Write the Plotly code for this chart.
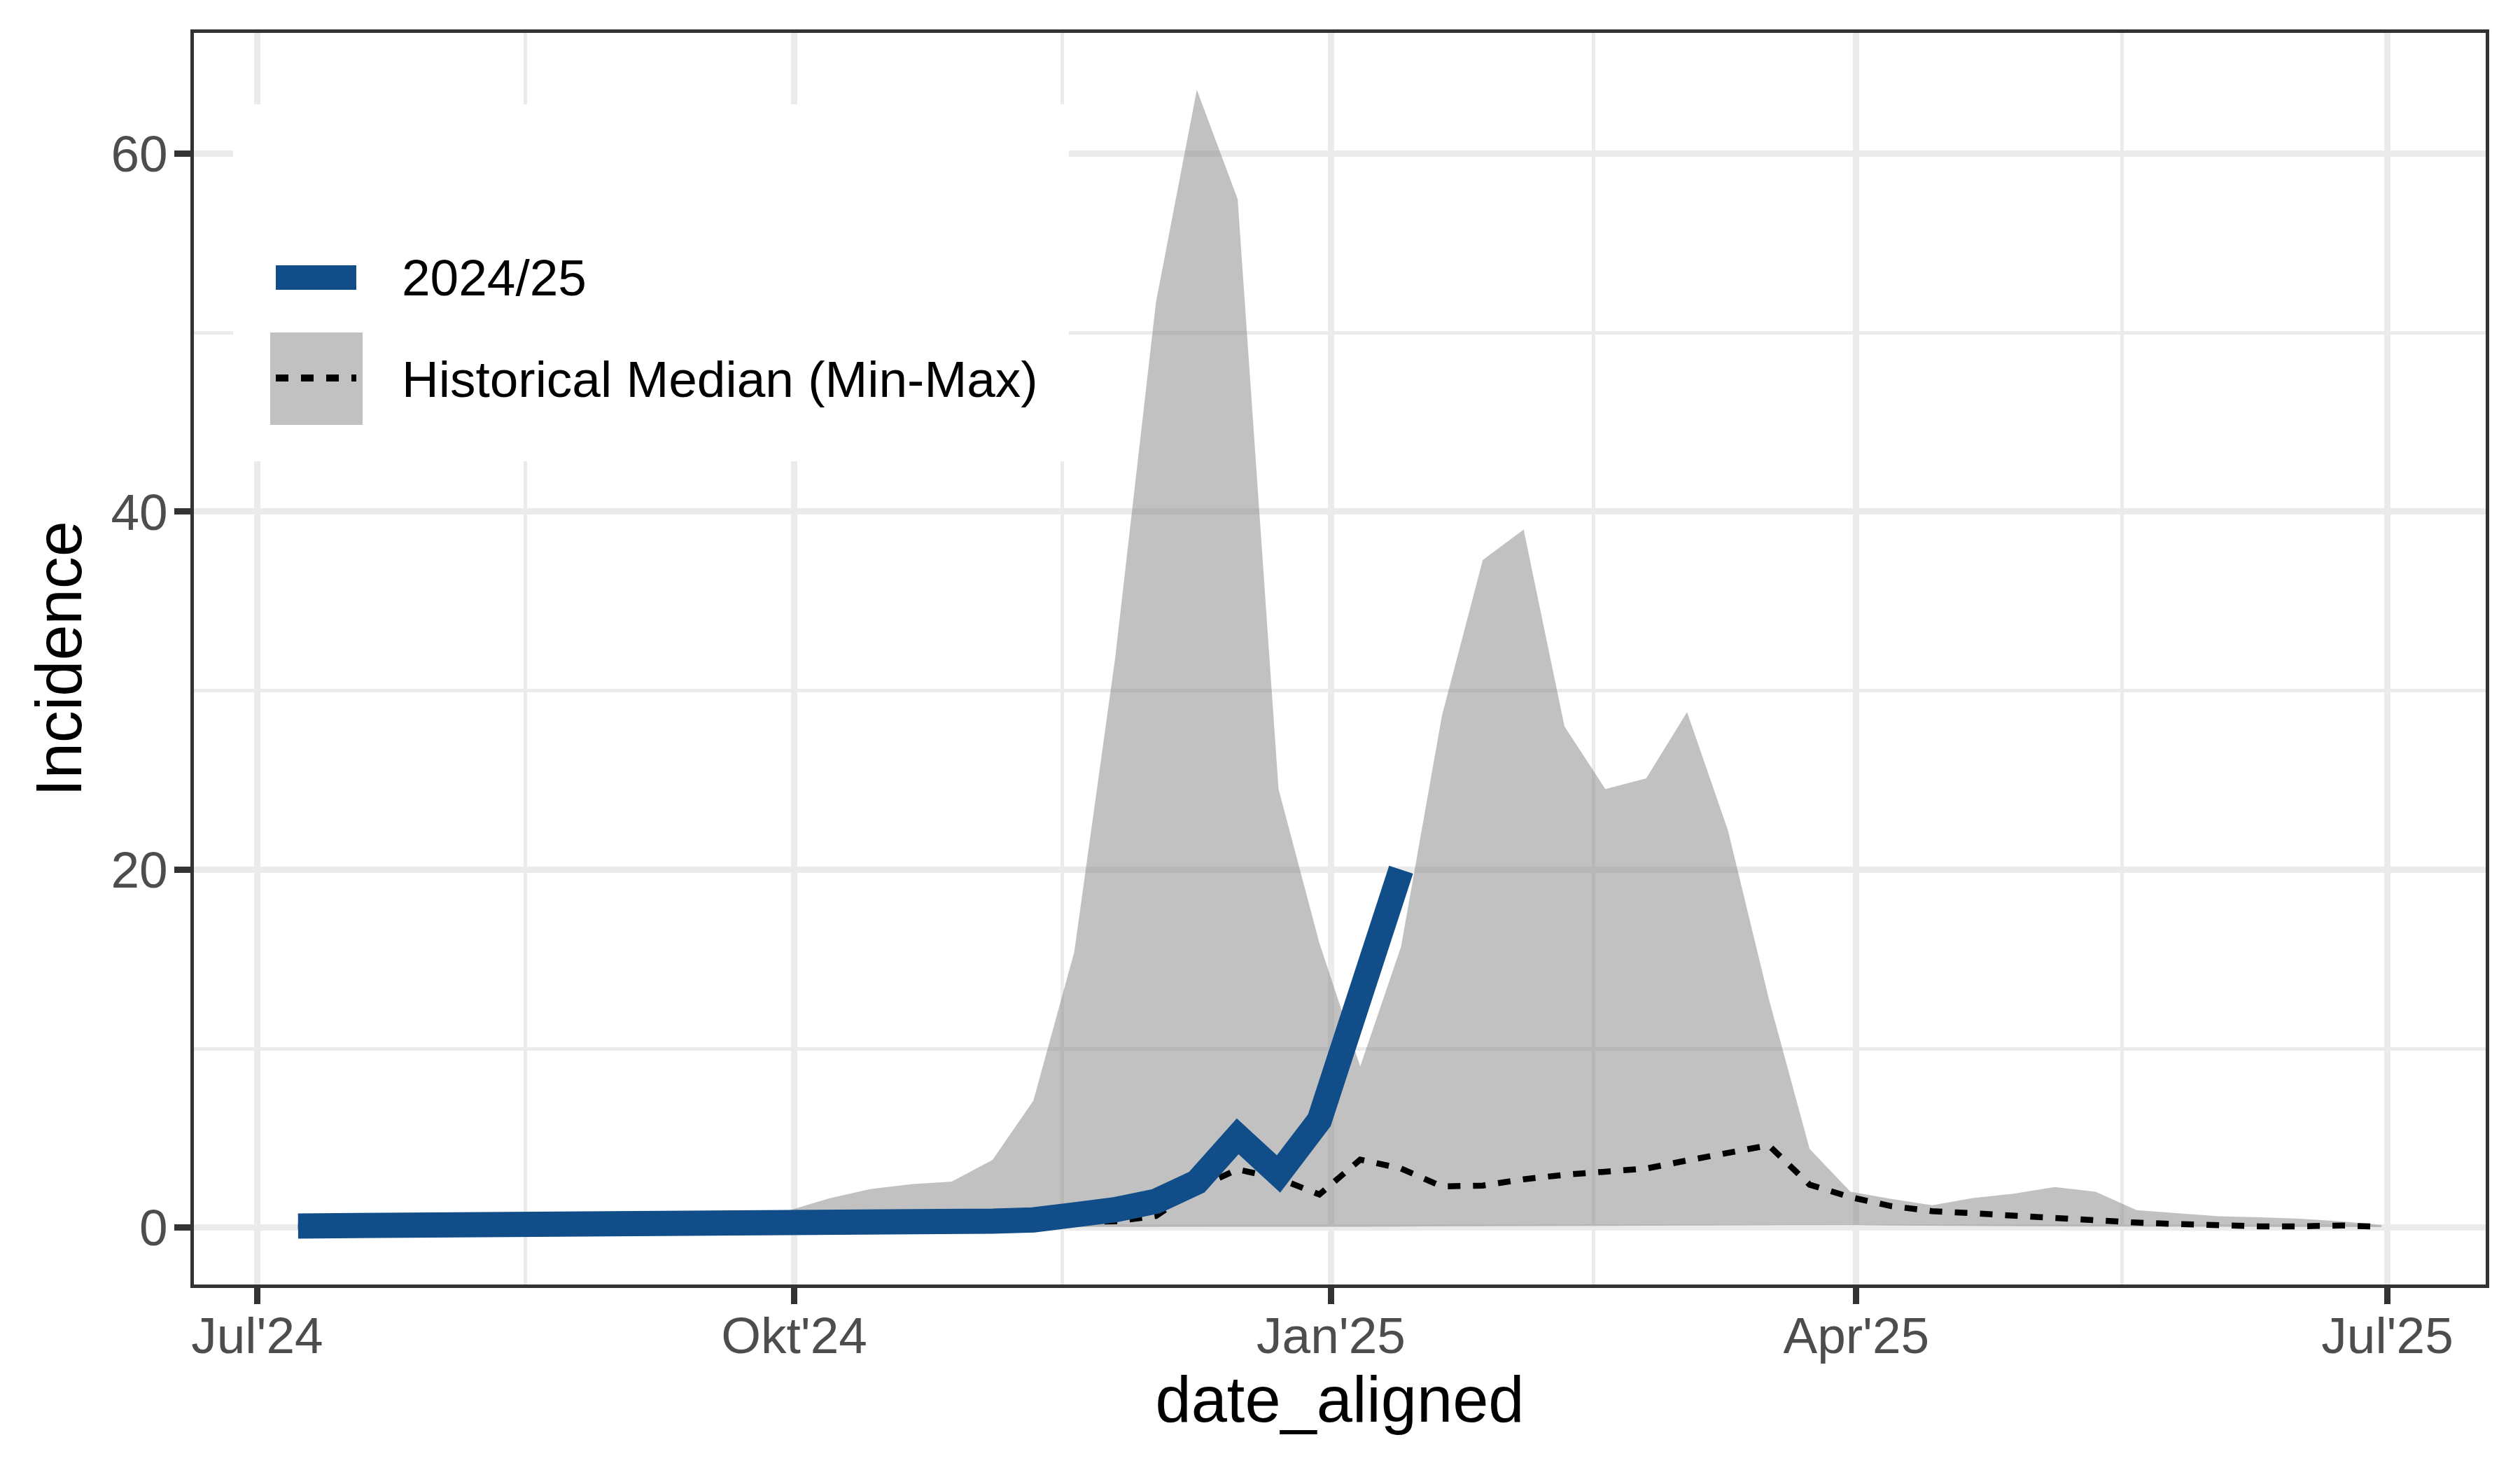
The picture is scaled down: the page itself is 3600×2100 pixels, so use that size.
import pandas as pd
import plotly.graph_objects as go

# ---------------- data ----------------
dates = [
    "2024-07-08", "2024-07-15", "2024-07-22", "2024-07-29", "2024-08-05", "2024-08-12",
    "2024-08-19", "2024-08-26", "2024-09-02", "2024-09-09", "2024-09-16", "2024-09-23",
    "2024-09-30", "2024-10-07", "2024-10-14", "2024-10-21", "2024-10-28", "2024-11-04",
    "2024-11-11", "2024-11-18", "2024-11-25", "2024-12-02", "2024-12-09", "2024-12-16",
    "2024-12-23", "2024-12-30", "2025-01-06", "2025-01-13", "2025-01-20", "2025-01-27",
    "2025-02-03", "2025-02-10", "2025-02-17", "2025-02-24", "2025-03-03", "2025-03-10",
    "2025-03-17", "2025-03-24", "2025-03-31", "2025-04-07", "2025-04-14", "2025-04-21",
    "2025-04-28", "2025-05-05", "2025-05-12", "2025-05-19", "2025-05-26", "2025-06-02",
    "2025-06-09", "2025-06-16", "2025-06-23", "2025-06-30",
]

season_2024_25 = [
    0.09, 0.09, 0.08, 0.07, 0.07, 0.09, 0.12, 0.14, 0.15, 0.08, 0.10, 0.13,
    0.18, 0.28, 0.28, 0.31, 0.29, 0.36, 0.43, 0.63, 1.00, 1.47, 2.54, 5.10,
    3.00, 6.00, 13.6, 20.0,
]

hist_median = [
    0.05, 0.05, 0.05, 0.05, 0.05, 0.05, 0.08, 0.08, 0.08, 0.10, 0.10, 0.12,
    0.15, 0.18, 0.20, 0.22, 0.25, 0.28, 0.30, 0.33, 0.35, 0.65, 2.20, 3.25,
    2.75, 1.85, 3.80, 3.30, 2.30, 2.35, 2.70, 2.95, 3.10, 3.30, 3.75, 4.20,
    4.60, 2.40, 1.70, 1.20, 0.92, 0.80, 0.65, 0.55, 0.35, 0.28, 0.20, 0.10,
    0.07, 0.07, 0.12, 0.05,
]

hist_min = [
    0.00, 0.00, 0.00, 0.00, 0.00, 0.00, 0.00, 0.00, 0.00, 0.00, 0.00, 0.00,
    0.02, 0.02, 0.02, 0.03, 0.03, 0.03, 0.03, 0.04, 0.04, 0.04, 0.05, 0.05,
    0.05, 0.05, 0.05, 0.06, 0.07, 0.08, 0.08, 0.09, 0.10, 0.10, 0.11, 0.12,
    0.13, 0.14, 0.15, 0.12, 0.10, 0.09, 0.08, 0.07, 0.06, 0.05, 0.05, 0.05,
    0.05, 0.04, 0.04, 0.03,
]

hist_max = [
    0.30, 0.30, 0.25, 0.20, 0.20, 0.25, 0.30, 0.30, 0.35, 0.40, 0.45, 0.60,
    0.95, 1.63, 2.15, 2.42, 2.57, 3.78, 7.10, 15.4, 31.8, 51.7, 63.57, 57.46,
    24.5, 15.9, 9.00, 15.7, 28.6, 37.3, 39.0, 28.0, 24.5, 25.1, 28.8, 22.2,
    12.8, 4.40, 2.00, 1.60, 1.25, 1.65, 1.90, 2.27, 2.00, 0.98, 0.80, 0.63,
    0.58, 0.50, 0.35, 0.15,
]

x_tick_vals = ["2024-07-01", "2024-10-01", "2025-01-01", "2025-04-01", "2025-07-01"]
x_tick_text = ["Jul'24", "Okt'24", "Jan'25", "Apr'25", "Jul'25"]
x_minor_vals = ["2024-08-16", "2024-11-16", "2025-02-15", "2025-05-16 12:00"]
y_tick_vals = [0, 20, 40, 60]
y_minor_vals = [10, 30, 50]

legend_labels = ["2024/25", "Historical Median (Min-Max)"]

# ---------------- styling ----------------
FONT = "Liberation Sans, Arial, Helvetica, sans-serif"
BLUE = "#114E89"
BAND = "rgba(131,131,131,0.5)"
GRID = "#EBEBEB"
DARK = "#333333"

W, H = 3600, 2100
ML, MR, MT, MB = 277, 49, 47, 265
PW, PH = W - ML - MR, H - MT - MB


def px_x(p):
    return (p - ML) / PW


def px_y(p):
    return (H - MB - p) / PH


# axis ranges with 5% expansion (ggplot default)
d = pd.to_datetime(dates)
span = d.max() - d.min()
x_range = [d.min() - 0.05 * span, d.max() + 0.05 * span]
all_y = hist_max + hist_min + hist_median + season_2024_25
y_lo, y_hi = min(all_y), max(all_y)
y_range = [y_lo - 0.05 * (y_hi - y_lo), y_hi + 0.05 * (y_hi - y_lo)]

fig = go.Figure()

fig.add_trace(go.Scatter(
    x=dates, y=hist_min, mode="lines", line=dict(width=0, color=BAND),
    hoverinfo="skip", showlegend=False,
))
fig.add_trace(go.Scatter(
    x=dates, y=hist_max, mode="lines", line=dict(width=0, color=BAND),
    fill="tonexty", fillcolor=BAND, showlegend=False, name="Min-Max",
))
fig.add_trace(go.Scatter(
    x=dates, y=hist_median, mode="lines",
    line=dict(color="black", width=8.5, dash="18px,18px"),
    showlegend=False, name="Historical Median",
))
fig.add_trace(go.Scatter(
    x=dates[:len(season_2024_25)], y=season_2024_25, mode="lines",
    line=dict(color=BLUE, width=36), showlegend=False, name="2024/25",
))

# ---------------- manual legend (ggplot-like) ----------------
shapes = [
    dict(type="rect", xref="paper", yref="paper", layer="above",
         x0=px_x(333), x1=px_x(1527), y0=px_y(659), y1=px_y(149),
         fillcolor="white", line=dict(width=0)),
    dict(type="line", xref="paper", yref="paper", layer="above",
         x0=px_x(394), x1=px_x(509), y0=px_y(396.5), y1=px_y(396.5),
         line=dict(color=BLUE, width=35)),
    dict(type="rect", xref="paper", yref="paper", layer="above",
         x0=px_x(386), x1=px_x(518), y0=px_y(607), y1=px_y(475),
         fillcolor=BAND, line=dict(width=0)),
    dict(type="line", xref="paper", yref="paper", layer="above",
         x0=px_x(394), x1=px_x(509), y0=px_y(540), y1=px_y(540),
         line=dict(color="black", width=10, dash="18px,18px")),
]

annotations = [
    dict(text=legend_labels[0], xref="paper", yref="paper",
         x=px_x(572), y=px_y(397), xanchor="left", yanchor="middle",
         showarrow=False, font=dict(family=FONT, size=73, color="black")),
    dict(text=legend_labels[1], xref="paper", yref="paper",
         x=px_x(572), y=px_y(541), xanchor="left", yanchor="middle",
         showarrow=False, font=dict(family=FONT, size=73, color="black")),
]

fig.update_layout(
    width=W, height=H,
    margin=dict(l=ML, r=MR, t=MT, b=MB, pad=0),
    paper_bgcolor="white", plot_bgcolor="white",
    font=dict(family=FONT, size=73, color="black"),
    shapes=shapes, annotations=annotations, showlegend=False,
)

fig.update_xaxes(
    type="date", range=x_range,
    tickmode="array", tickvals=x_tick_vals, ticktext=x_tick_text,
    ticks="outside", ticklen=23, tickwidth=9, tickcolor=DARK,
    tickfont=dict(family=FONT, size=73, color="#4D4D4D"),
    ticklabelstandoff=-17,
    showgrid=True, gridcolor=GRID, gridwidth=9,
    minor=dict(tickmode="array", tickvals=x_minor_vals, showgrid=True,
               gridcolor=GRID, gridwidth=4.5, ticks=""),
    showline=True, linecolor=DARK, linewidth=4.5, mirror=True,
    zeroline=False,
    title=dict(text="date_aligned", font=dict(family=FONT, size=92, color="black"),
               standoff=20),
)
fig.update_yaxes(
    range=y_range,
    tickmode="array", tickvals=y_tick_vals,
    ticks="outside", ticklen=23, tickwidth=9, tickcolor=DARK,
    tickfont=dict(family=FONT, size=73, color="#4D4D4D"),
    ticklabelstandoff=-5,
    showgrid=True, gridcolor=GRID, gridwidth=9,
    minor=dict(tickmode="array", tickvals=y_minor_vals, showgrid=True,
               gridcolor=GRID, gridwidth=4.5, ticks=""),
    showline=True, linecolor=DARK, linewidth=4.5, mirror=True,
    zeroline=False,
    title=dict(text="Incidence", font=dict(family=FONT, size=92, color="black"),
               standoff=13),
)

fig.write_html(
    "out.html",
    config={"displayModeBar": False},
    post_script="document.body.style.margin='0';document.body.style.padding='0';",
)
